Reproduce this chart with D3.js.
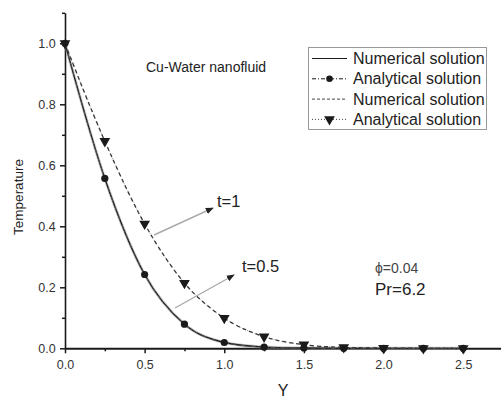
<!DOCTYPE html>
<html><head><meta charset="utf-8">
<script src="https://cdn.jsdelivr.net/npm/d3@7"></script>
<style>body{margin:0;background:#fff}svg{display:block}text{font-family:Arial,"Liberation Sans",sans-serif}</style>
</head><body><svg id="c" width="501" height="398"></svg>
<script>
const yVals = [0, 0.25, 0.5, 0.75, 1.0, 1.25, 1.5, 1.75, 2.0, 2.25, 2.5];
const tempT05 = [1.0, 0.557, 0.242, 0.079, 0.019, 0.004, 0.001, 0, 0, 0, 0];
const tempT1  = [1.0, 0.679, 0.408, 0.214, 0.099, 0.038, 0.012, 0.003, 0.001, 0, 0];
const xTicks = [0, 0.5, 1.0, 1.5, 2.0, 2.5];
const yTicks = [0, 0.2, 0.4, 0.6, 0.8, 1.0];
const legendLabels = ["Numerical solution","Analytical solution","Numerical solution","Analytical solution"];

const svg = d3.select("#c");
const x = d3.scaleLinear().domain([0, 2.75]).range([65, 503]);
const y = d3.scaleLinear().domain([0, 1.1]).range([348.3, 12.8]);
const ink = "#1a1a1a";

// axes
const xAxis = d3.axisBottom(x).tickValues(xTicks).tickFormat(d3.format(".1f")).tickSize(5).tickSizeOuter(0);
const gx = svg.append("g").attr("transform", "translate(0,348.3)").call(xAxis);
gx.select(".domain").attr("stroke", ink).attr("stroke-width", 2);
gx.selectAll(".tick line").attr("stroke", ink).attr("stroke-width", 1.5);
gx.selectAll(".tick text").attr("font-size", 12.5).attr("fill", "#333").attr("dy", "1.05em");
svg.append("g").attr("transform", "translate(0,348.3)")
  .call(d3.axisBottom(x).tickValues(d3.range(0.25, 2.75, 0.5)).tickSize(3).tickFormat(""))
  .call(g => { g.select(".domain").remove(); g.selectAll("line").attr("stroke", ink).attr("stroke-width", 1.5); });

const yAxis = d3.axisLeft(y).tickValues(yTicks).tickFormat(d3.format(".1f")).tickSize(5).tickSizeOuter(0);
const gy = svg.append("g").attr("transform", "translate(65,0)").call(yAxis);
gy.select(".domain").attr("stroke", ink).attr("stroke-width", 1.6);
gy.selectAll(".tick line").attr("stroke", ink).attr("stroke-width", 1.5);
gy.selectAll(".tick text").attr("font-size", 12.5).attr("fill", "#333").attr("dx", "-0.1em");
svg.append("g").attr("transform", "translate(65,0)")
  .call(d3.axisLeft(y).tickValues([0.1,0.3,0.5,0.7,0.9,1.1]).tickSize(3).tickFormat(""))
  .call(g => { g.select(".domain").remove(); g.selectAll("line").attr("stroke", ink).attr("stroke-width", 1.5); });

// curves
const ptsA = yVals.map((v,i)=>[v, tempT05[i]]);
const ptsB = yVals.map((v,i)=>[v, tempT1[i]]);
const line = d3.line().x(d=>x(d[0])).y(d=>y(d[1])).curve(d3.curveMonotoneX);

svg.append("path").attr("d", line(ptsA)).attr("fill","none").attr("stroke","#999").attr("stroke-width",3).attr("opacity",0.5);
svg.append("path").attr("d", line(ptsA)).attr("fill","none").attr("stroke",ink).attr("stroke-width",1.3);
svg.append("path").attr("d", line(ptsA)).attr("fill","none").attr("stroke","#555").attr("stroke-width",1).attr("stroke-dasharray","5,2,1,2");
svg.append("path").attr("d", line(ptsB)).attr("fill","none").attr("stroke","#333").attr("stroke-width",1.3).attr("stroke-dasharray","4,3");
svg.append("path").attr("d", line(ptsB)).attr("fill","none").attr("stroke","#666").attr("stroke-width",1).attr("stroke-dasharray","1,3").attr("opacity",0.7);

svg.append("g").selectAll("circle").data(ptsA).join("circle")
  .attr("cx", d=>x(d[0])).attr("cy", d=>y(d[1])).attr("r", 3.6).attr("fill", ink);
const tri = d3.symbol().type(d3.symbolTriangle).size(50);
svg.append("g").selectAll("path").data(ptsB).join("path")
  .attr("d", tri).attr("transform", d=>`translate(${x(d[0])},${y(d[1])}) rotate(180)`).attr("fill", ink);

// arrows
const defs = svg.append("defs");
defs.append("marker").attr("id","ah").attr("viewBox","0 0 10 10").attr("refX",9).attr("refY",5)
  .attr("markerWidth",8).attr("markerHeight",8).attr("markerUnits","userSpaceOnUse").attr("orient","auto")
  .append("path").attr("d","M0,1 L10,5 L0,9 Z").attr("fill","#222");
svg.append("line").attr("x1",154).attr("y1",235).attr("x2",213).attr("y2",208)
  .attr("stroke","#aaa").attr("stroke-width",1.4).attr("marker-end","url(#ah)");
svg.append("line").attr("x1",175).attr("y1",308).attr("x2",234).attr("y2",275)
  .attr("stroke","#aaa").attr("stroke-width",1.4).attr("marker-end","url(#ah)");

// annotations
svg.append("text").attr("x",146).attr("y",72).attr("font-size",14).attr("fill","#222").text("Cu-Water nanofluid");
svg.append("text").attr("x",217).attr("y",207).attr("font-size",16.5).attr("fill","#222").text("t=1");
svg.append("text").attr("x",242).attr("y",272).attr("font-size",16.5).attr("fill","#222").text("t=0.5");
svg.append("text").attr("x",375).attr("y",273).attr("font-size",14).attr("fill","#444").attr("font-family","'Liberation Serif','DejaVu Serif',serif").text("\u03d5=0.04");
svg.append("text").attr("x",375).attr("y",295).attr("font-size",17).attr("fill","#222").text("Pr=6.2");
svg.append("text").attr("x",283).attr("y",396).attr("text-anchor","middle").attr("font-size",16).attr("fill","#222").text("Y");
svg.append("text").attr("transform","translate(23,197) rotate(-90)").attr("text-anchor","middle").attr("font-size",13.5).attr("fill","#222").text("Temperature");

// legend
const lg = svg.append("g");
lg.append("rect").attr("x",308.5).attr("y",47.5).attr("width",178).attr("height",82).attr("fill","#fff").attr("stroke","#999").attr("stroke-width",1);
const rows = lg.selectAll("g").data(legendLabels).join("g").attr("transform",(d,i)=>`translate(0,${58.5 + i*20.3})`);
rows.append("line").attr("x1",312).attr("x2",347).attr("y1",0).attr("y2",0)
  .attr("stroke",(d,i)=> i<2 ? ink : "#444").attr("stroke-width",1)
  .attr("stroke-dasharray",(d,i)=> ["", "4,2,1,2", "3,2", "1,2"][i]);
rows.filter((d,i)=>i===1).append("circle").attr("cx",329.5).attr("cy",0).attr("r",3.3).attr("fill",ink);
rows.filter((d,i)=>i===3).append("path").attr("d",tri).attr("transform","translate(329.5,0) rotate(180)").attr("fill",ink);
rows.append("text").attr("x",353).attr("y",5.5).attr("font-size",16).attr("fill","#222").text(d=>d);
</script></body></html>
